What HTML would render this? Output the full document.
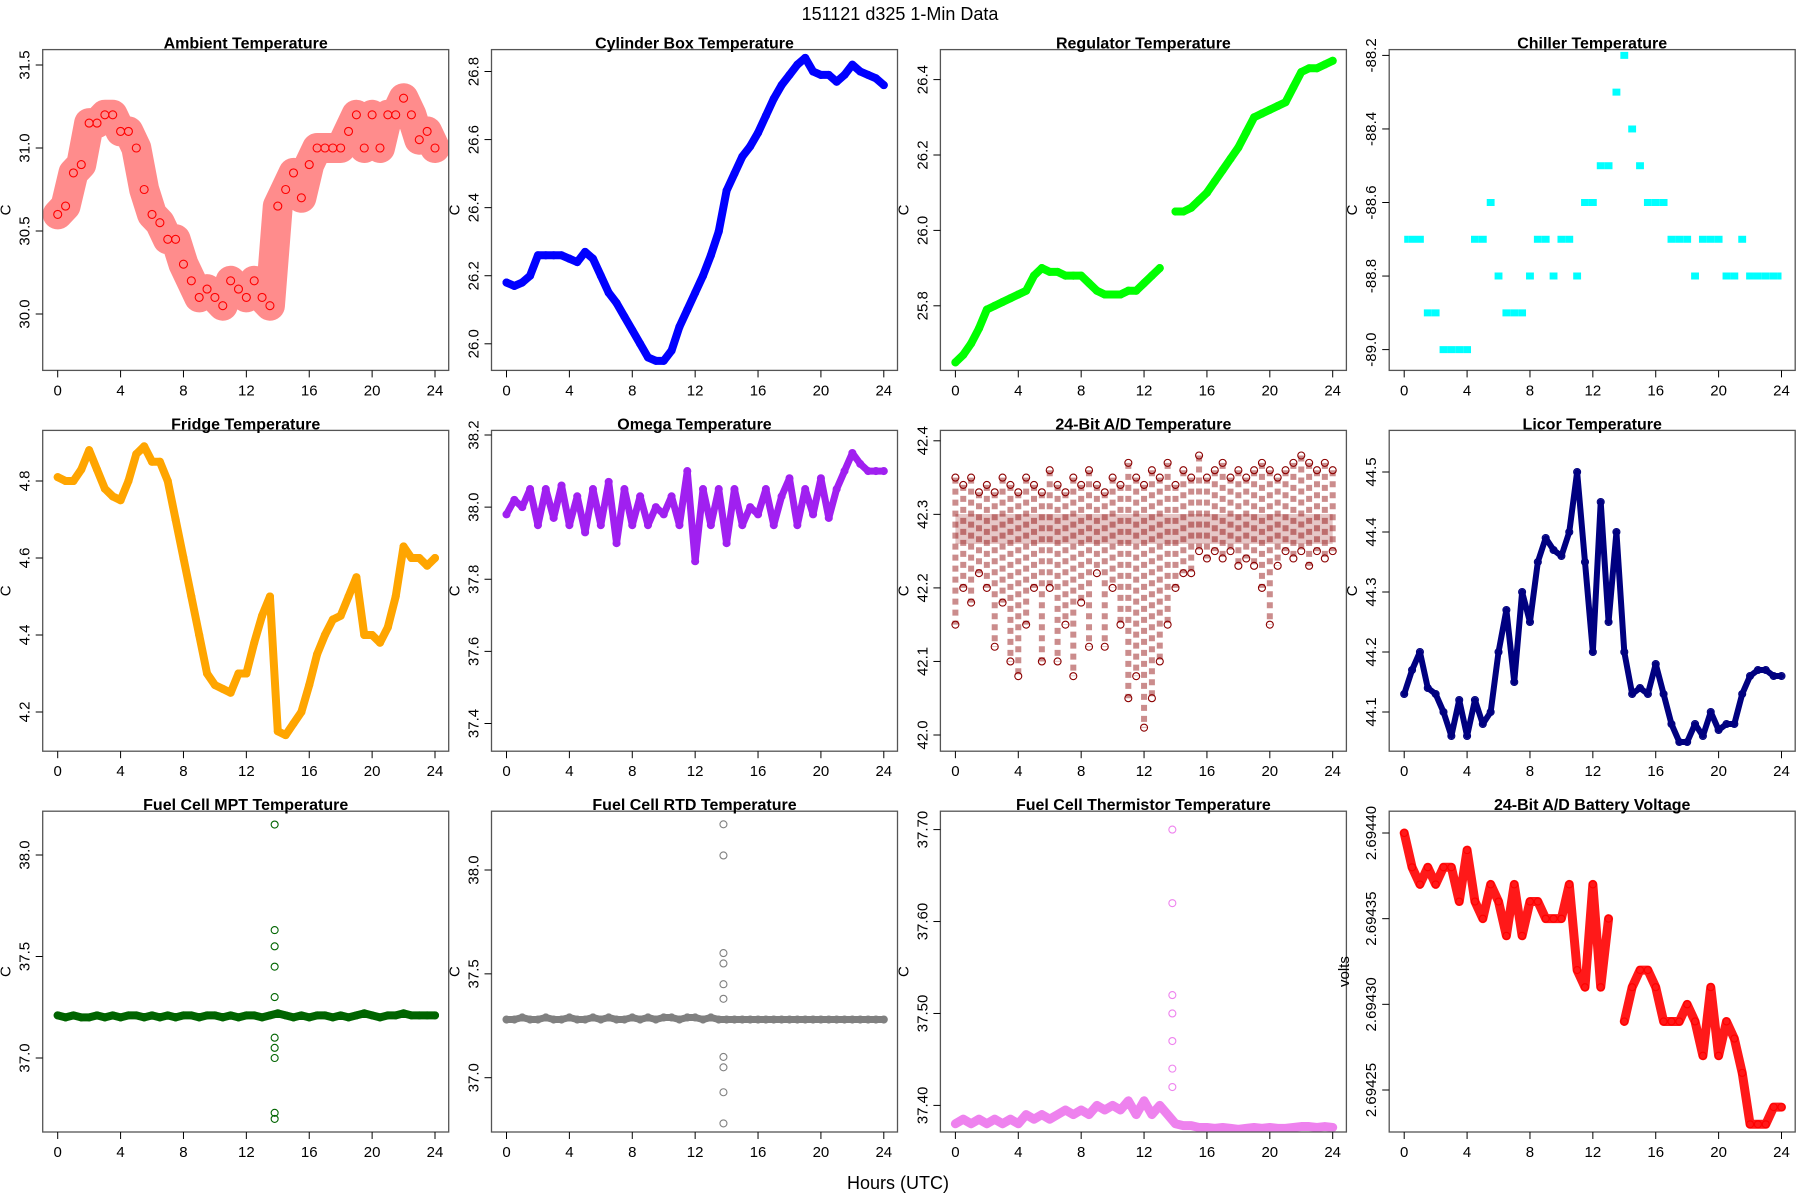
<!DOCTYPE html>
<html><head><meta charset="utf-8"><style>
html,body{margin:0;padding:0;background:#fff;}
svg{display:block;font-family:"Liberation Sans",sans-serif;}
</style></head><body>
<svg id="fig" width="1800" height="1200" viewBox="0 0 1800 1200">
<text x="900" y="20" text-anchor="middle" font-size="18">151121    d325    1-Min Data</text>
<text x="898" y="1189" text-anchor="middle" font-size="18">Hours (UTC)</text>
</svg>
<script>
const hours = [0,0.5,1,1.5,2,2.5,3,3.5,4,4.5,5,5.5,6,6.5,7,7.5,8,8.5,9,9.5,10,10.5,11,11.5,12,12.5,13,13.5,14,14.5,15,15.5,16,16.5,17,17.5,18,18.5,19,19.5,20,20.5,21,21.5,22,22.5,23,23.5,24];
const xTicks = [0,4,8,12,16,20,24];
const ambient = [30.6,30.65,30.85,30.9,31.15,31.15,31.2,31.2,31.1,31.1,31.0,30.75,30.6,30.55,30.45,30.45,30.3,30.2,30.1,30.15,30.1,30.05,30.2,30.15,30.1,30.2,30.1,30.05,30.65,30.75,30.85,30.7,30.9,31.0,31.0,31.0,31.0,31.1,31.2,31.0,31.2,31.0,31.2,31.2,31.3,31.2,31.05,31.1,31.0];
const cylinder = [26.18,26.17,26.18,26.2,26.26,26.26,26.26,26.26,26.25,26.24,26.27,26.25,26.2,26.15,26.12,26.08,26.04,26.0,25.96,25.95,25.95,25.98,26.05,26.1,26.15,26.2,26.26,26.33,26.45,26.5,26.55,26.58,26.62,26.67,26.72,26.76,26.79,26.82,26.84,26.8,26.79,26.79,26.77,26.79,26.82,26.8,26.79,26.78,26.76];
const regulator = [25.65,25.67,25.7,25.74,25.79,25.8,25.81,25.82,25.83,25.84,25.88,25.9,25.89,25.89,25.88,25.88,25.88,25.86,25.84,25.83,25.83,25.83,25.84,25.84,25.86,25.88,25.9,null,26.05,26.05,26.06,26.08,26.1,26.13,26.16,26.19,26.22,26.26,26.3,26.31,26.32,26.33,26.34,26.38,26.42,26.43,26.43,26.44,26.45];
const chiller = [-88.7,-88.7,-88.7,-88.9,-88.9,-89.0,-89.0,-89.0,-89.0,-88.7,-88.7,-88.6,-88.8,-88.9,-88.9,-88.9,-88.8,-88.7,-88.7,-88.8,-88.7,-88.7,-88.8,-88.6,-88.6,-88.5,-88.5,-88.3,-88.2,-88.4,-88.5,-88.6,-88.6,-88.6,-88.7,-88.7,-88.7,-88.8,-88.7,-88.7,-88.7,-88.8,-88.8,-88.7,-88.8,-88.8,-88.8,-88.8,-88.8];
const fridge = [4.81,4.8,4.8,4.83,4.88,4.83,4.78,4.76,4.75,4.8,4.87,4.89,4.85,4.85,4.8,4.7,4.6,4.5,4.4,4.3,4.27,4.26,4.25,4.3,4.3,4.38,4.45,4.5,4.15,4.14,4.17,4.2,4.27,4.35,4.4,4.44,4.45,4.5,4.55,4.4,4.4,4.38,4.42,4.5,4.63,4.6,4.6,4.58,4.6];
const omega = [37.98,38.02,38.0,38.05,37.95,38.05,37.97,38.06,37.95,38.03,37.93,38.05,37.95,38.07,37.9,38.05,37.95,38.03,37.95,38.0,37.98,38.03,37.95,38.1,37.85,38.05,37.95,38.05,37.9,38.05,37.95,38.0,37.98,38.05,37.95,38.03,38.08,37.95,38.05,37.98,38.08,37.97,38.05,38.1,38.15,38.12,38.1,38.1,38.1];
const adHigh = [42.35,42.34,42.35,42.33,42.34,42.33,42.35,42.34,42.33,42.35,42.34,42.33,42.36,42.34,42.33,42.35,42.34,42.36,42.34,42.33,42.35,42.34,42.37,42.35,42.34,42.36,42.35,42.37,42.34,42.36,42.35,42.38,42.35,42.36,42.37,42.35,42.36,42.35,42.36,42.37,42.36,42.35,42.36,42.37,42.38,42.37,42.36,42.37,42.36];
const adLow = [42.15,42.2,42.18,42.22,42.2,42.12,42.18,42.1,42.08,42.15,42.2,42.1,42.2,42.1,42.15,42.08,42.18,42.12,42.22,42.12,42.2,42.15,42.05,42.08,42.01,42.05,42.1,42.15,42.2,42.22,42.22,42.25,42.24,42.25,42.24,42.25,42.23,42.24,42.23,42.2,42.15,42.23,42.25,42.24,42.25,42.23,42.25,42.24,42.25];
const licor = [44.13,44.17,44.2,44.14,44.13,44.1,44.06,44.12,44.06,44.12,44.08,44.1,44.2,44.27,44.15,44.3,44.25,44.35,44.39,44.37,44.36,44.4,44.5,44.35,44.2,44.45,44.25,44.4,44.2,44.13,44.14,44.13,44.18,44.13,44.08,44.05,44.05,44.08,44.06,44.1,44.07,44.08,44.08,44.13,44.16,44.17,44.17,44.16,44.16];
const mpt = [37.21,37.2,37.21,37.2,37.2,37.21,37.2,37.21,37.2,37.21,37.21,37.2,37.21,37.2,37.21,37.2,37.21,37.21,37.2,37.21,37.21,37.2,37.21,37.2,37.21,37.21,37.2,37.21,37.22,37.21,37.2,37.21,37.2,37.21,37.21,37.2,37.21,37.2,37.21,37.22,37.21,37.2,37.21,37.21,37.22,37.21,37.21,37.21,37.21];
const mptOutliers = [38.15,37.63,37.55,37.45,37.3,37.1,37.05,37.0,36.73,36.7];
const rtd = [37.28,37.28,37.29,37.28,37.28,37.29,37.28,37.28,37.29,37.28,37.28,37.29,37.28,37.29,37.28,37.28,37.29,37.28,37.29,37.28,37.29,37.29,37.28,37.29,37.29,37.28,37.29,37.28,37.28,37.28,37.28,37.28,37.28,37.28,37.28,37.28,37.28,37.28,37.28,37.28,37.28,37.28,37.28,37.28,37.28,37.28,37.28,37.28,37.28];
const rtdOutliers = [38.22,38.07,37.6,37.55,37.45,37.38,37.1,37.05,36.93,36.78];
const thermistor = [37.38,37.385,37.38,37.385,37.38,37.385,37.38,37.385,37.38,37.39,37.385,37.39,37.385,37.39,37.395,37.39,37.395,37.39,37.4,37.395,37.4,37.395,37.405,37.39,37.405,37.39,37.4,37.39,37.38,37.378,37.378,37.376,37.376,37.375,37.376,37.375,37.374,37.375,37.376,37.375,37.376,37.375,37.375,37.376,37.377,37.377,37.376,37.377,37.376];
const thermOutliers = [37.70,37.62,37.52,37.5,37.47,37.44,37.42];
const battery = [2.69440,2.69438,2.69437,2.69438,2.69437,2.69438,2.69438,2.69436,2.69439,2.69436,2.69435,2.69437,2.69436,2.69434,2.69437,2.69434,2.69436,2.69436,2.69435,2.69435,2.69435,2.69437,2.69432,2.69431,2.69437,2.69431,2.69435,null,2.69429,2.69431,2.69432,2.69432,2.69431,2.69429,2.69429,2.69429,2.69430,2.69429,2.69427,2.69431,2.69427,2.69429,2.69428,2.69426,2.69423,2.69423,2.69423,2.69424,2.69424];

const svg = document.getElementById('fig');
const NS = 'http://www.w3.org/2000/svg';
function mk(tag, attrs, parent){ const e=document.createElementNS(NS,tag); for(const k in attrs) e.setAttribute(k,attrs[k]); (parent||svg).appendChild(e); return e; }

const colLeft=[42.7,491.5,940.4,1389.2], rowTop=[49.6,430.4,811.2], W=406, H=320.8;
const panels = [
 {name:'ambient',title:'Ambient Temperature',data:ambient,color:'#ff0000',ticks:[30.0,30.5,31.0,31.5],dec:1,t1:31.5,p1:65,t2:30.0,p2:314,w:30,op:0.45,r:4},
 {name:'cylinder-box',title:'Cylinder Box Temperature',data:cylinder,color:'#0000ff',ticks:[26.0,26.2,26.4,26.6,26.8],dec:1,t1:26.8,p1:71.5,t2:26.0,p2:343.8,w:8,op:1,r:3.5},
 {name:'regulator',title:'Regulator Temperature',data:regulator,color:'#00ff00',ticks:[25.8,26.0,26.2,26.4],dec:1,t1:26.4,p1:79.6,t2:25.8,p2:305.8,w:8,op:1,r:3.5},
 {name:'chiller',title:'Chiller Temperature',data:chiller,color:'#00ffff',ticks:[-89.0,-88.8,-88.6,-88.4,-88.2],dec:1,t1:-88.2,p1:55.4,t2:-89.0,p2:349.6,step:true,r:3.5},
 {name:'fridge',title:'Fridge Temperature',data:fridge,color:'#ffa500',ticks:[4.2,4.4,4.6,4.8],dec:1,t1:4.8,p1:481,t2:4.2,p2:712,w:8,op:1,r:3.5},
 {name:'omega',title:'Omega Temperature',data:omega,color:'#a020f0',ticks:[37.4,37.6,37.8,38.0,38.2],dec:1,t1:38.2,p1:435,t2:37.4,p2:723.5,w:7,op:1,r:3.5},
 {name:'ad-temp',title:'24-Bit A/D Temperature',data:null,color:'#8b0000',ticks:[42.0,42.1,42.2,42.3,42.4],dec:1,t1:42.4,p1:440.8,t2:42.0,p2:735,band:true,r:3.5},
 {name:'licor',title:'Licor Temperature',data:licor,color:'#000080',ticks:[44.1,44.2,44.3,44.4,44.5],dec:1,t1:44.5,p1:472,t2:44.1,p2:712,w:6,op:1,r:3.5},
 {name:'fuel-cell-mpt',title:'Fuel Cell MPT Temperature',data:mpt,out:mptOutliers,color:'#006400',ticks:[37.0,37.5,38.0],dec:1,t1:38.0,p1:855,t2:37.0,p2:1058,w:8,op:1,r:3.5},
 {name:'fuel-cell-rtd',title:'Fuel Cell RTD Temperature',data:rtd,out:rtdOutliers,color:'#808080',ticks:[37.0,37.5,38.0],dec:1,t1:38.0,p1:870,t2:37.0,p2:1077.7,w:7,op:1,r:3.5},
 {name:'fuel-cell-thermistor',title:'Fuel Cell Thermistor Temperature',data:thermistor,out:thermOutliers,color:'#ee82ee',ticks:[37.40,37.50,37.60,37.70],dec:2,t1:37.70,p1:829.6,t2:37.40,p2:1105.4,w:9,op:1,r:3.5},
 {name:'battery-voltage',title:'24-Bit A/D Battery Voltage',data:battery,color:'#ff0000',ticks:[2.69425,2.69430,2.69435,2.69440],dec:5,t1:2.69440,p1:833,t2:2.69425,p2:1090,w:9,op:0.9,r:3.5,ylab:'volts'}
];

panels.forEach((p,i)=>{
  const L=colLeft[i%4], T=rowTop[Math.floor(i/4)];
  const g=mk('g',{});
  
  
  const xs=v=>L+15+v*(377.3/24);
  const ys=v=>p.p1+(v-p.t1)*(p.p2-p.p1)/(p.t2-p.t1);
  const clip='c'+i;
  const cp=mk('clipPath',{id:clip},g); mk('rect',{x:L,y:T,width:W,height:H},cp);
  const plot=mk('g',{'clip-path':'url(#'+clip+')'},g);
  
  
  if(p.step){
    p.data.forEach((v,k)=>{ const x0=xs(Math.max(0,hours[k]-0.25)), x1=xs(Math.min(24,hours[k]+0.25));
      const s=mk('line',{x1:x0,x2:x1,y1:ys(v),y2:ys(v),stroke:p.color,'stroke-width':7},plot);
      
       });
  } else if(p.band){
    const mid=hours.map((h,k)=>xs(h)+','+ys(42.28)).join(' ');
    mk('polyline',{points:mid,fill:'none',stroke:p.color,'stroke-width':30,opacity:0.22},plot);
    hours.forEach((h,k)=>{
      const b=mk('line',{x1:xs(h),x2:xs(h),y1:ys(adHigh[k]),y2:ys(adLow[k]),stroke:p.color,'stroke-width':6,'stroke-opacity':0.45,'stroke-dasharray':'6 5'},plot);
      
      
      [adHigh[k],adLow[k]].forEach(v=>{
        const c=mk('circle',{cx:xs(h),cy:ys(v),r:3.5,fill:'none',stroke:p.color,'stroke-width':1.1},plot);
        
        
      });
    });
  } else {
    let seg=[];
    const flush=()=>{ if(seg.length>1) mk('polyline',{points:seg.join(' '),fill:'none',stroke:p.color,'stroke-width':p.w,'stroke-opacity':p.op,'stroke-linejoin':'round','stroke-linecap':'round'},plot); seg=[]; };
    p.data.forEach((v,k)=>{ if(v===null){flush();return;} seg.push(xs(hours[k])+','+ys(v)); });
    flush();
    p.data.forEach((v,k)=>{ if(v===null) return;
      const c=mk('circle',{cx:xs(hours[k]),cy:ys(v),r:p.r,fill:'none',stroke:p.color,'stroke-width':1.1},plot);
      
       });
    if(p.out) p.out.forEach(v=>{
      const c=mk('circle',{cx:xs(13.8),cy:ys(v),r:3.5,fill:'none',stroke:p.color,'stroke-width':1.1},plot);
      
       });
  }
  mk('rect',{x:L,y:T,width:W,height:H,fill:'none',stroke:'#555','stroke-width':1.3},g);
  const t=mk('text',{x:L+W/2,y:T-1,'text-anchor':'middle','font-size':16,'font-weight':'bold'},g); t.textContent=p.title;
  
  
  xTicks.forEach(v=>{ mk('line',{x1:xs(v),x2:xs(v),y1:T+H,y2:T+H+7,stroke:'#000'},g);
    const tl=mk('text',{x:xs(v),y:T+H+25,'text-anchor':'middle','font-size':15},g); tl.textContent=v;
    
     });
  p.ticks.forEach(v=>{ const y=ys(v); mk('line',{x1:L-7,x2:L,y1:y,y2:y,stroke:'#000'},g);
    const tl=mk('text',{x:0,y:0,'text-anchor':'middle','font-size':15,transform:'translate('+(L-13)+','+y+') rotate(-90)'},g);
    tl.textContent=v.toFixed(p.dec);
    
     });
  const yl=mk('text',{x:0,y:0,'text-anchor':'middle','font-size':15,transform:'translate('+(L-(p.ylab?40:32))+','+(T+H/2)+') rotate(-90)'},g);
  yl.textContent=p.ylab||'C';
  
  
});
</script>
</body></html>
